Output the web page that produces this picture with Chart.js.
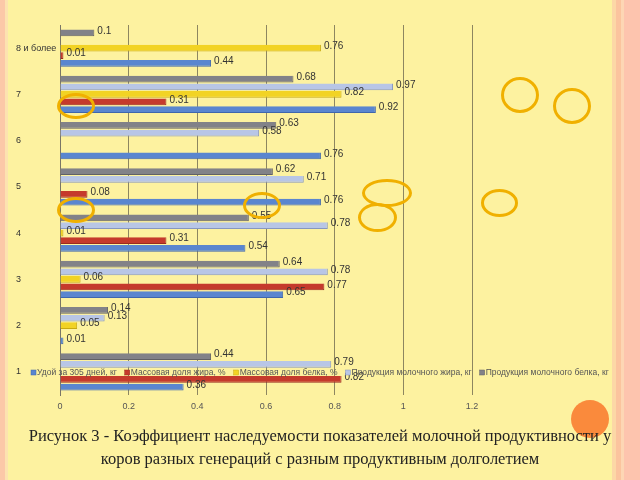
<!DOCTYPE html>
<html>
<head>
<meta charset="utf-8">
<script src="https://cdn.jsdelivr.net/npm/chart.js@4.4.0/dist/chart.umd.min.js"></script>
<style>
  html, body { margin: 0; padding: 0; }
  body { width: 640px; height: 480px; background: #fdf2a0; position: relative; overflow: hidden; }
  #wrap { position: absolute; left: 0; top: 0; width: 640px; height: 480px; }
  .stripe { position: absolute; top: 0; height: 480px; }
  .ring { position: absolute; border: 3px solid #f0b000; border-radius: 50%; box-sizing: border-box; pointer-events: none; }
  #dot { position: absolute; left: 571px; top: 400px; width: 38px; height: 38px; border-radius: 50%; background: #fa8a3c; }
  #caption { position: absolute; left: 0; top: 424px; width: 640px; text-align: center;
    font-family: "Liberation Serif", "Times New Roman", serif; font-size: 16.5px; line-height: 23px; color: #222; }
</style>
</head>
<body>
<div class="stripe" style="left:0;width:5px;background:#fcc8a8"></div>
<div class="stripe" style="left:5px;width:3px;background:#fde2b0"></div>
<div class="stripe" style="left:612px;width:4px;background:#fcd8a6"></div>
<div class="stripe" style="left:616px;width:5px;background:#fbc49e"></div>
<div class="stripe" style="left:621px;width:3px;background:#fdd6b4"></div>
<div class="stripe" style="left:624px;width:16px;background:#fdc4ae"></div>
<div id="wrap"><canvas id="chart" width="640" height="480"></canvas></div>
<!-- пометки поверх графика -->
<div class="ring" style="left:57px;top:93px;width:38px;height:26px"></div>
<div class="ring" style="left:501px;top:77px;width:38px;height:36px"></div>
<div class="ring" style="left:553px;top:88px;width:38px;height:36px"></div>
<div class="ring" style="left:481px;top:189px;width:37px;height:28px"></div>
<div class="ring" style="left:57px;top:197px;width:38px;height:26px"></div>
<div class="ring" style="left:243px;top:192px;width:38px;height:27px"></div>
<div class="ring" style="left:362px;top:179px;width:50px;height:28px"></div>
<div class="ring" style="left:358px;top:203px;width:39px;height:29px"></div>
<div id="dot"></div>
<div id="caption">Рисунок 3 - Коэффициент наследуемости показателей молочной продуктивности у<br>коров разных генераций с разным продуктивным долголетием</div>
<script>
// Данные графика
const categories = ['1', '2', '3', '4', '5', '6', '7', '8 и более'];
const seriesNames = [
  'Удой за 305 дней, кг',
  'Массовая доля жира, %',
  'Массовая доля белка, %',
  'Продукция молочного жира, кг',
  'Продукция молочного белка, кг'
];
const milkYield   = [0.36, 0.01, 0.65, 0.54, 0.76, 0.76, 0.92, 0.44];
const fatPct      = [0.82, null, 0.77, 0.31, 0.08, null, 0.31, 0.01];
const proteinPct  = [null, 0.05, 0.06, 0.01, null, null, 0.82, 0.76];
const fatProd     = [0.79, 0.13, 0.78, 0.78, 0.71, 0.58, 0.97, null];
const proteinProd = [0.44, 0.14, 0.64, 0.55, 0.62, 0.63, 0.68, 0.1];
const xTicks = [0, 0.2, 0.4, 0.6, 0.8, 1, 1.2];

const colors = ['#5a86cf', '#c53a2c', '#f2d324', '#b8c6e6', '#828288'];
const borders = ['#3f66ad', '#9a2a1f', '#c9aa10', '#8797c0', '#616166'];
const series = [milkYield, fatPct, proteinPct, fatProd, proteinProd];

// в группе удой снизу, поэтому порядок наборов обратный
const datasets = series.map((d, i) => ({
  label: seriesNames[i],
  data: d,
  backgroundColor: colors[i],
  borderColor: borders[i],
  borderWidth: { top: 0, bottom: 1, left: 0, right: 1 },
  categoryPercentage: 0.82,
  barPercentage: 0.9
})).reverse();

// Подписи значений у концов столбцов
const valueLabels = {
  id: 'valueLabels',
  afterDatasetsDraw(chart) {
    const ctx = chart.ctx;
    ctx.save();
    ctx.font = '10px Arial, "Liberation Sans", sans-serif';
    ctx.fillStyle = '#333';
    ctx.textAlign = 'left';
    ctx.textBaseline = 'middle';
    chart.data.datasets.forEach((ds, i) => {
      chart.getDatasetMeta(i).data.forEach((bar, j) => {
        const v = ds.data[j];
        if (v == null) return;
        ctx.fillText(String(v), bar.x + 3, bar.y - 2);
      });
    });
    ctx.restore();
  }
};

// Легенда поверх области графика (как в оригинале)
const overlayLegend = {
  id: 'overlayLegend',
  afterDraw(chart) {
    const ctx = chart.ctx;
    ctx.save();
    ctx.font = '8.5px Arial, "Liberation Sans", sans-serif';
    ctx.textBaseline = 'middle';
    let x = 31;
    const y = 373;
    seriesNames.forEach((name, i) => {
      ctx.fillStyle = colors[i];
      ctx.fillRect(x, y - 3, 5, 5);
      ctx.strokeStyle = borders[i];
      ctx.lineWidth = 0.5;
      ctx.strokeRect(x, y - 3, 5, 5);
      ctx.fillStyle = '#555';
      ctx.fillText(name, x + 6, y);
      x += 6 + ctx.measureText(name).width + 8;
    });
    ctx.restore();
  }
};

new Chart(document.getElementById('chart'), {
  type: 'bar',
  data: { labels: categories, datasets },
  options: {
    indexAxis: 'y',
    responsive: false,
    animation: false,
    layout: { padding: { top: 25, left: 16, right: 168, bottom: 65 } },
    plugins: { legend: { display: false }, tooltip: { enabled: false } },
    scales: {
      x: {
        min: 0, max: 1.2,
        afterBuildTicks: s => { s.ticks = xTicks.map(v => ({ value: v })); },
        afterFit: s => { s.height = 20; },
        grid: { color: '#8d8660', lineWidth: 1, drawTicks: false },
        border: { display: false },
        ticks: { padding: 6, color: '#555', font: { size: 9, family: 'Arial' }, callback: v => String(v) }
      },
      y: {
        reverse: true,
        afterFit: s => { s.width = 44; },
        grid: { display: false },
        border: { display: true, color: '#7a7666', width: 1 },
        ticks: { crossAlign: 'far', padding: 4, color: '#333', font: { size: 9, family: 'Arial' } }
      }
    }
  },
  plugins: [valueLabels, overlayLegend]
});
</script>
</body>
</html>
